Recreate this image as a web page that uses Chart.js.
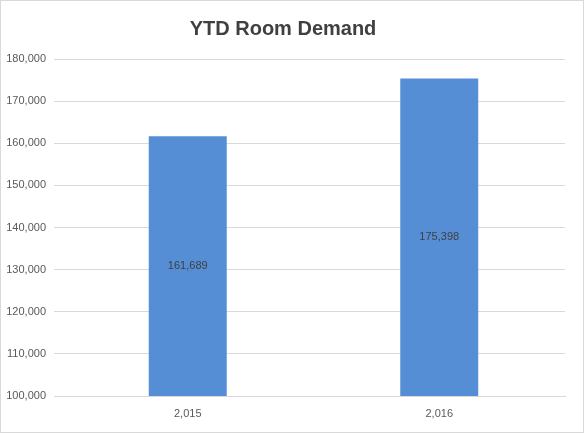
<!DOCTYPE html>
<html>
<head>
<meta charset="utf-8">
<script src="https://cdn.jsdelivr.net/npm/chart.js@4"></script>
<style>
  html, body { margin: 0; padding: 0; background: #fff; }
  #wrap { width: 582px; height: 431px; border: 1px solid #d9d9d9; }
</style>
</head>
<body>
<div id="wrap"><canvas id="chart" width="582" height="431"></canvas></div>
<script>
var years = ["2,015", "2,016"];
var demand = [161689, 175398];

// value labels drawn in the middle of each bar
var barLabels = {
  id: "barLabels",
  afterDraw: function (chart) {
    var ctx = chart.ctx;
    var yScale = chart.scales.y;
    ctx.save();
    ctx.font = "11px 'Liberation Sans', Arial, sans-serif";
    ctx.fillStyle = "#404040";
    ctx.textAlign = "center";
    ctx.textBaseline = "middle";
    chart.getDatasetMeta(0).data.forEach(function (bar, i) {
      var p = bar.getProps(["x", "y"], true);
      ctx.fillText(demand[i].toLocaleString("en-US"), p.x, (p.y + yScale.bottom) / 2);
    });
    ctx.restore();
  }
};

new Chart(document.getElementById("chart"), {
  type: "bar",
  data: {
    labels: years,
    datasets: [{ data: demand, backgroundColor: "#558ed5", categoryPercentage: 1, barPercentage: 0.31 }]
  },
  options: {
    responsive: false,
    animation: false,
    layout: { padding: { left: 0, right: 18, bottom: 12 } },
    plugins: {
      legend: { display: false },
      tooltip: { enabled: false },
      title: {
        display: true,
        text: "YTD Room Demand",
        color: "#404040",
        font: { family: "'Liberation Sans', Arial, sans-serif", size: 20, weight: "bold" },
        padding: { top: 16, bottom: 18 }
      }
    },
    scales: {
      x: {
        grid: { display: false },
        border: { color: "#d9d9d9" },
        ticks: { color: "#595959", font: { family: "'Liberation Sans', Arial, sans-serif", size: 11 } },
        afterFit: function (axis) { axis.height = 24; }
      },
      y: {
        min: 100000,
        max: 180000,
        border: { display: false },
        grid: { color: "#d9d9d9" },
        ticks: {
          stepSize: 10000,
          color: "#595959",
          padding: 8,
          font: { family: "'Liberation Sans', Arial, sans-serif", size: 11 },
          callback: function (v) { return v.toLocaleString("en-US"); }
        },
        afterFit: function (axis) { axis.width = 61; }
      }
    }
  },
  plugins: [barLabels]
});
</script>
</body>
</html>
